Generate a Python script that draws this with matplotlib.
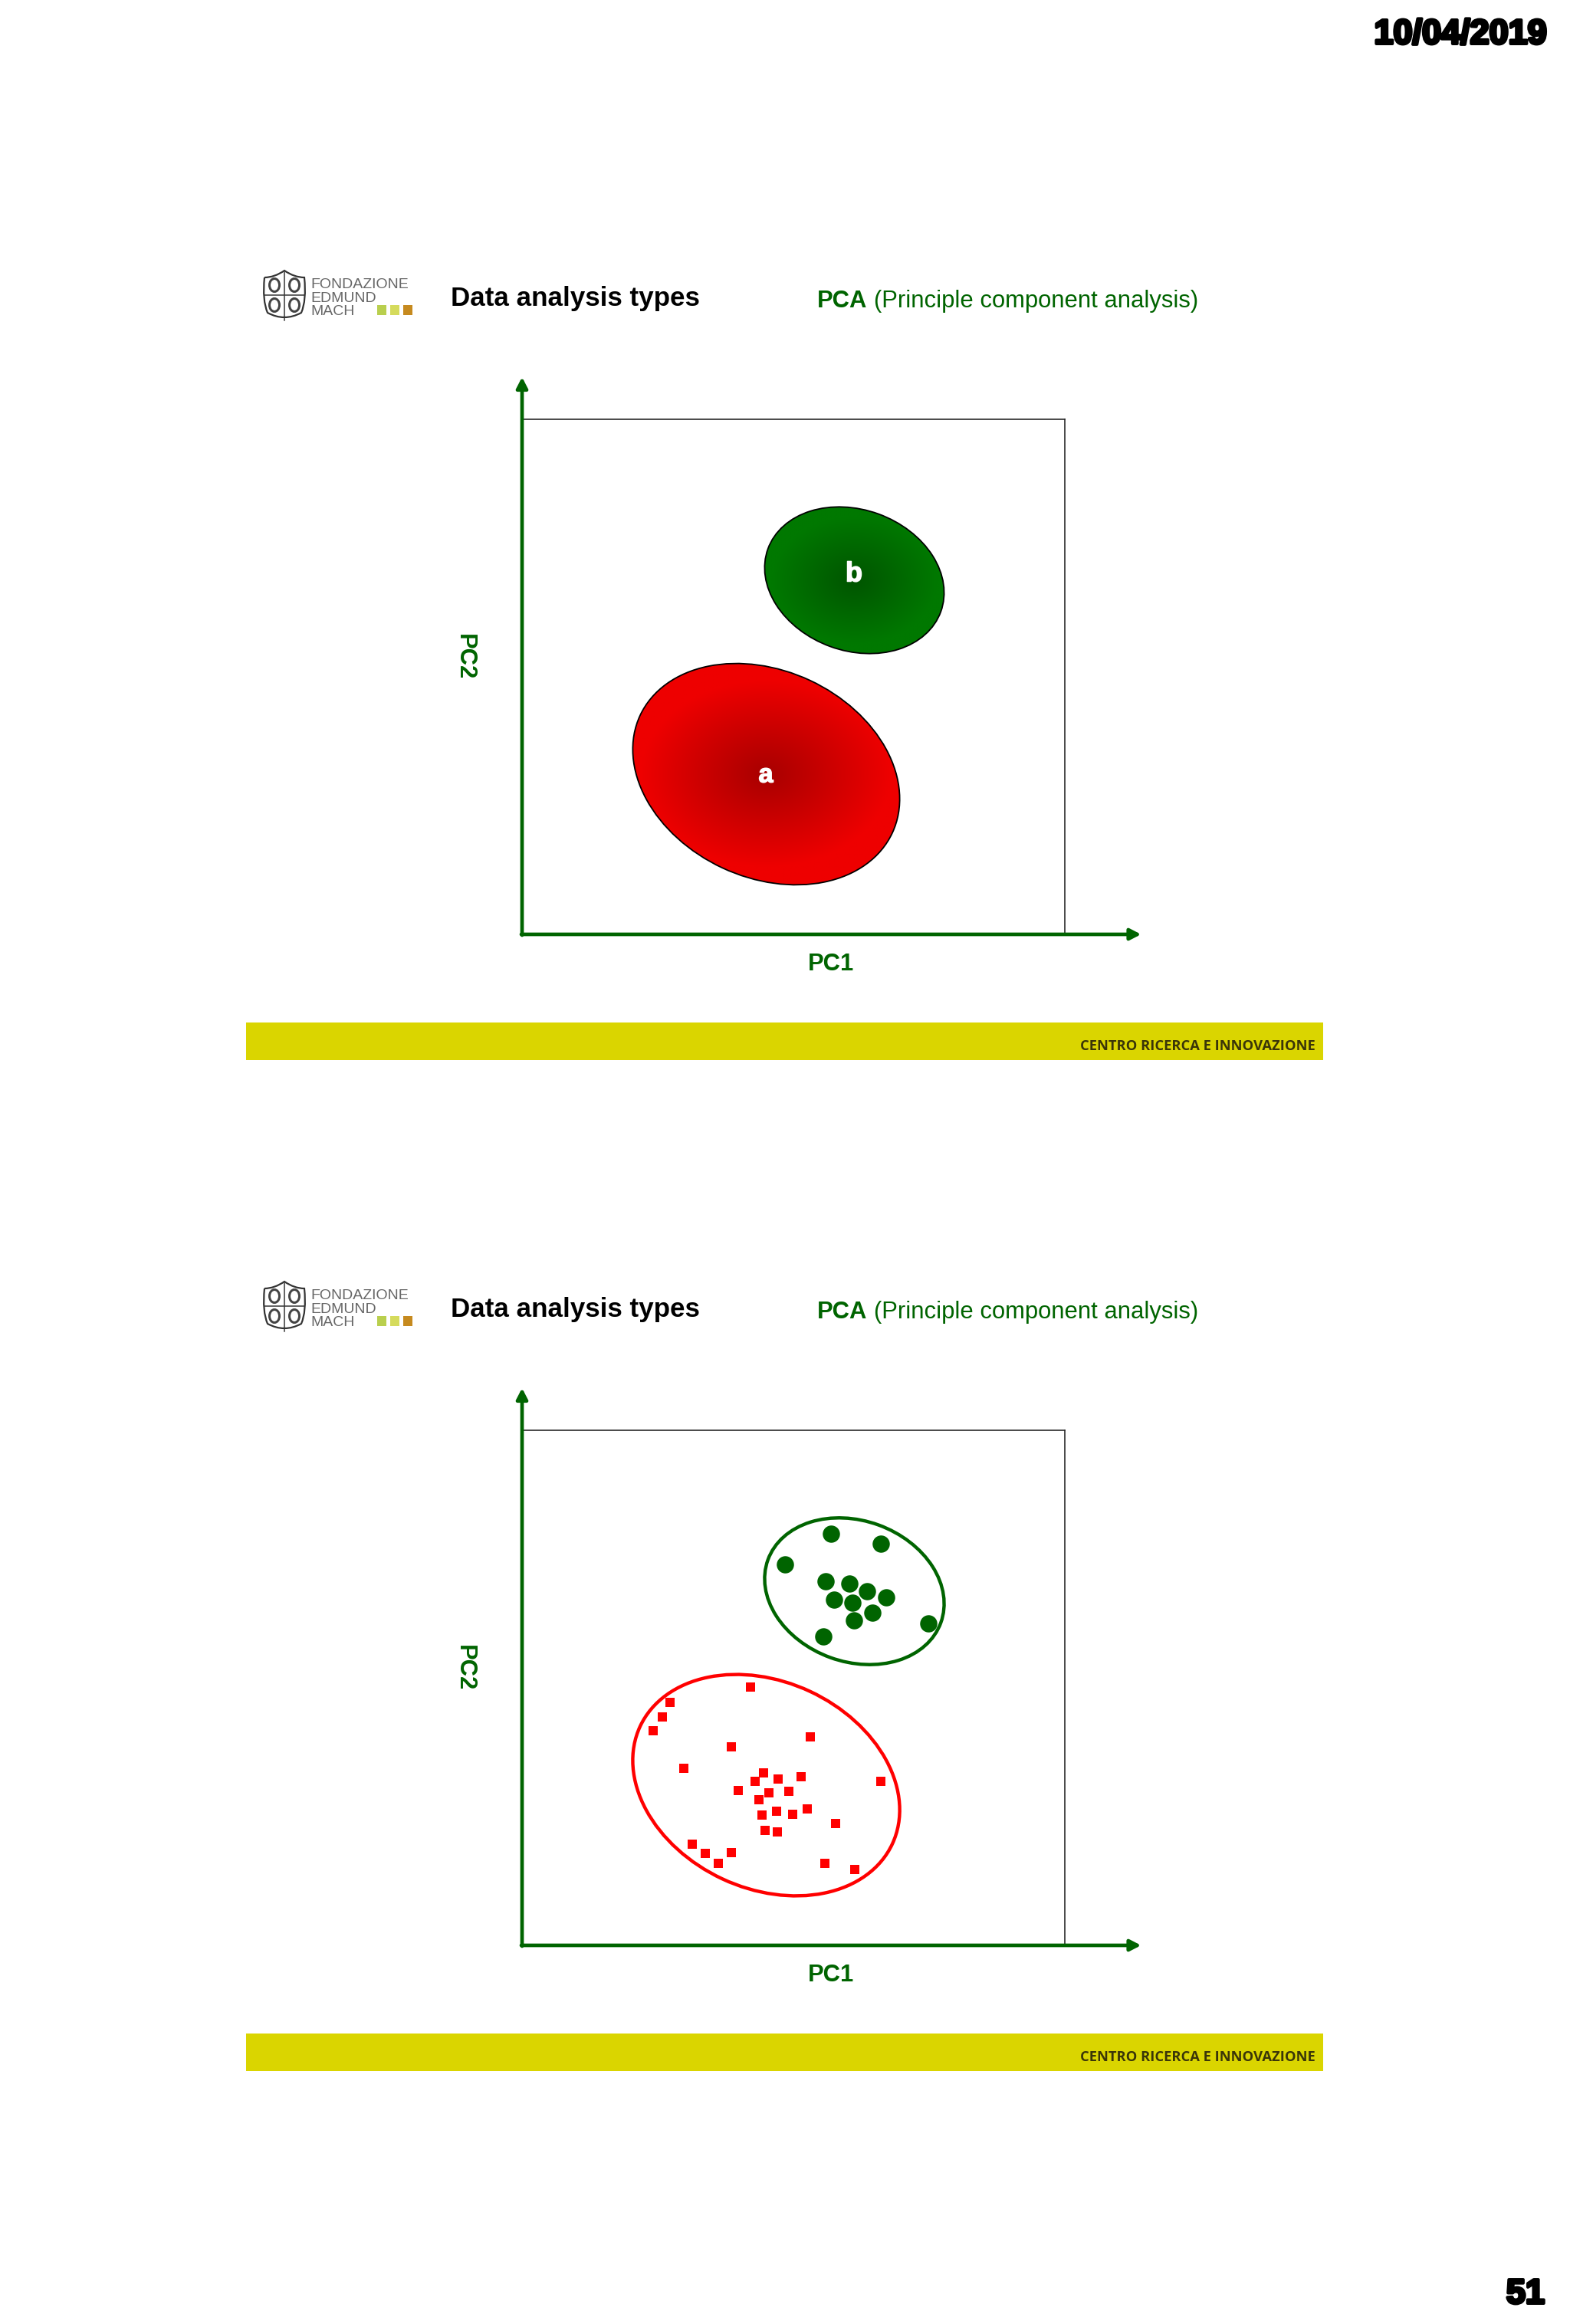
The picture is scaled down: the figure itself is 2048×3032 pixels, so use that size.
#!/usr/bin/env python3
import numpy as np
import matplotlib
matplotlib.use("Agg")
import matplotlib.pyplot as plt
import matplotlib.patheffects as pe
from matplotlib.colors import LinearSegmentedColormap
from matplotlib.patches import Ellipse, Rectangle, PathPatch
from matplotlib.path import Path

W, H = 2048, 3032
SHIFT = 1319  # second slide sits this many pixels under the first

###
#   Data (PC1, PC2 in plot units)
###

group_a_x = [298.3, 193.3, 182.7, 171.3, 376.3, 273.3, 211.3, 315.3, 304.3, 334.0,
             364.3, 467.7, 282.0, 322.0, 348.3, 309.0, 332.0, 313.0, 353.3, 372.0,
             408.7, 317.3, 333.3, 222.3, 239.3, 272.7, 256.3, 395.0, 433.7]
group_a_y = [337.3, 316.9, 298.4, 280.1, 272.3, 258.7, 231.2, 224.8, 213.7, 216.9,
             220.5, 213.7, 201.6, 198.7, 201.2, 190.5, 174.8, 170.1, 171.2, 177.6,
             158.7, 150.1, 148.0, 132.0, 119.8, 120.9, 106.6, 106.6, 98.7]

group_b_x = [403.0, 468.3, 343.0, 395.7, 426.7, 450.3, 474.7, 406.7, 431.3, 457.3,
             433.3, 392.7, 530.0]
group_b_y = [537.0, 524.4, 497.0, 475.5, 472.3, 462.0, 453.7, 450.9, 447.3, 434.4,
             424.4, 403.4, 419.8]

# centre x, centre y, width, height, angle
ellipse_a = (318.5, 209.0, 363.0, 270.0, -25.0)
ellipse_b = (433.5, 462.0, 240.0, 184.0, -20.0)

label_a = "a"
label_b = "b"
axis_x_label = "PC1"
axis_y_label = "PC2"
slide_title = "Data analysis types"
slide_method = "PCA"
slide_method_long = "(Principle component analysis)"
banner_text = "CENTRO RICERCA E INNOVAZIONE"
logo_lines = ["FONDAZIONE", "EDMUND", "MACH"]
date_text = "10/04/2019"
page_text = "51"

###
#   Plot parameters
###

GREEN = "#006400"
RED = "#FF0000"
BANNER = "#DAD500"
SANS = "Liberation Sans"

plt.rcParams["font.family"] = [SANS, "DejaVu Sans"]

fig = plt.figure(figsize=(W / 100, H / 100), dpi=100, facecolor="white")

page = fig.add_axes([0, 0, 1, 1])
page.set_xlim(0, W)
page.set_ylim(H, 0)
page.axis("off")


def px(n):
    return n * 0.72


def plot_axes(dy):
    # box corners are 681..1389 and 547..1219 on the first slide
    left, right, top, bottom = 681, 1389, 547 + dy, 1219 + dy
    ax = fig.add_axes([left / W, 1 - bottom / H, (right - left) / W, (bottom - top) / H])
    ax.set_xlim(0, right - left)
    ax.set_ylim(0, bottom - top)
    ax.patch.set_alpha(0)
    ax.set_xticks([])
    ax.set_yticks([])
    for side in ["top", "right"]:
        ax.spines[side].set_linewidth(px(1.6))
        ax.spines[side].set_color("#222222")
    for side in ["left", "bottom"]:
        ax.spines[side].set_visible(False)
    arrow = dict(arrowstyle="-|>,head_length=0.62,head_width=0.32", color=GREEN,
                 lw=px(4.7), shrinkA=0, shrinkB=0, mutation_scale=13.5)
    ax.annotate("", xy=(807.5, 0), xytext=(-1, 0), arrowprops=arrow, annotation_clip=False)
    ax.annotate("", xy=(0, 727), xytext=(0, -1), arrowprops=arrow, annotation_clip=False)
    return ax


def shaded_ellipse(ax, spec, dark, light):
    cx, cy, w, h, angle = spec
    xs = np.linspace(cx - w / 2 - 5, cx + w / 2 + 5, 300)
    ys = np.linspace(cy - w / 2 - 5, cy + w / 2 + 5, 300)
    gx, gy = np.meshgrid(xs, ys)
    t = np.hypot((gx - cx) / (w / 2), (gy - cy) / (h / 2))
    cmap = LinearSegmentedColormap.from_list("shade", [dark, light])
    im = ax.imshow(np.clip(t / 0.9, 0, 1), extent=[xs[0], xs[-1], ys[0], ys[-1]],
                   origin="lower", cmap=cmap, vmin=0, vmax=1, aspect="auto", zorder=1)
    patch = Ellipse((cx, cy), w, h, angle=angle, fc="none", ec="black", lw=px(1.8), zorder=2)
    ax.add_patch(patch)
    im.set_clip_path(patch)
    ax.set_xlim(0, 708)
    ax.set_ylim(0, 672)


def draw_logo(dy):
    # shield outline
    verts = [(345, 362 + dy), (358, 362 + dy), (371, 353 + dy), (384, 362 + dy), (397, 362 + dy),
             (400, 392 + dy), (393, 408 + dy), (371, 420 + dy), (349, 408 + dy), (342, 392 + dy), (345, 362 + dy)]
    codes = [Path.MOVETO, Path.CURVE3, Path.CURVE3, Path.CURVE3, Path.CURVE3,
             Path.CURVE3, Path.CURVE3, Path.CURVE3, Path.CURVE3, Path.CURVE3, Path.CURVE3]
    page.add_patch(PathPatch(Path(verts, codes), fc="white", ec="#333333", lw=px(2.2)))
    page.plot([371, 371], [355 + dy, 418 + dy], color="#333333", lw=px(1.5))
    page.plot([345, 397], [385 + dy, 385 + dy], color="#333333", lw=px(1.5))
    for ex, ey in [(358, 372), (384, 372), (358, 398), (384, 398)]:
        page.add_patch(Ellipse((ex, ey + dy), 13, 17, fc="none", ec="#444444", lw=px(3)))
    for txt, base in zip(logo_lines, [376, 394, 411]):
        page.text(405, base + dy, txt, fontsize=px(19.5), color="#666666", va="baseline", family=SANS)
    for sx, col in zip([492, 509, 526], ["#B9CF4E", "#D5DB5C", "#C68A1F"]):
        page.add_patch(Rectangle((sx, 398 + dy), 12, 13, fc=col, ec="none"))


def draw_slide(dy):
    draw_logo(dy)
    page.text(588, 399 + dy, slide_title, fontsize=px(35), fontweight="bold", color="black", va="baseline")
    page.text(1066, 401 + dy, slide_method, fontsize=px(31), fontweight="bold", color=GREEN, va="baseline")
    page.text(1140, 401 + dy, slide_method_long, fontsize=px(31), color=GREEN, va="baseline")
    page.text(1084, 1266 + dy, axis_x_label, fontsize=px(31), fontweight="bold", color=GREEN,
              ha="center", va="baseline")
    page.text(606, 857 + dy, axis_y_label, fontsize=px(31), fontweight="bold", color=GREEN,
              rotation=-90, ha="center", va="center")
    page.add_patch(Rectangle((321, 1334 + dy), 1405, 49, fc=BANNER, ec="none"))
    page.text(1716, 1370 + dy, banner_text, fontsize=px(18.4), color="#3A3508", fontweight="bold",
              ha="right", va="baseline", family="Open Sans")
    return plot_axes(dy)


##
#   First slide: shaded group regions
##

ax1 = draw_slide(0)
shaded_ellipse(ax1, ellipse_a, "#A80000", "#EE0000")
shaded_ellipse(ax1, ellipse_b, "#005500", "#007800")
stroke = [pe.withStroke(linewidth=px(1.5), foreground="white")]
ax1.text(318, 207, label_a, color="white", fontsize=px(34), fontweight="bold",
         ha="center", va="center", path_effects=stroke, zorder=3)
ax1.text(433, 470, label_b, color="white", fontsize=px(36), fontweight="bold",
         ha="center", va="center", path_effects=stroke, zorder=3)

##
#   Second slide: samples inside the outlines
##

ax2 = draw_slide(SHIFT)
for spec, col in [(ellipse_a, RED), (ellipse_b, GREEN)]:
    cx, cy, w, h, angle = spec
    ax2.add_patch(Ellipse((cx, cy), w, h, angle=angle, fc="none", ec=col, lw=px(4.4), zorder=2))
ax2.scatter(group_a_x, group_a_y, marker="s", s=px(12) ** 2, color=RED, linewidths=0, zorder=3)
ax2.scatter(group_b_x, group_b_y, marker="o", s=px(22.5) ** 2, color=GREEN, linewidths=0, zorder=3)

##
#   Page furniture
##

heavy = [pe.withStroke(linewidth=px(4), foreground="black")]
page.text(1905, 57, date_text, fontsize=px(45), fontweight="bold",
          color="black", ha="center", va="baseline", path_effects=heavy)
page.text(1990, 3005, page_text, fontsize=px(45), fontweight="bold",
          color="black", ha="center", va="baseline", path_effects=heavy)

print("saving...")
fig.savefig("out.png", dpi=100, facecolor="white")
